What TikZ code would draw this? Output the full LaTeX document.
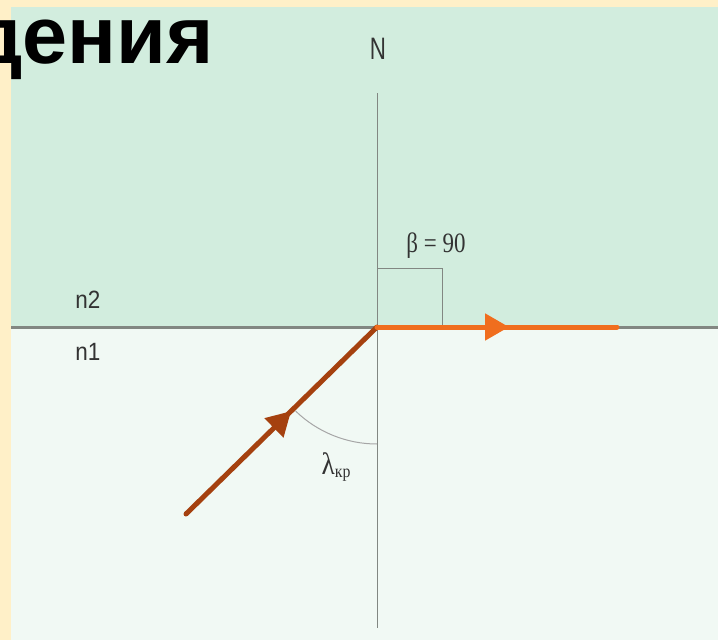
\documentclass[tikz,border=0pt]{standalone}
\usepackage{fontspec}
\setmainfont{Liberation Serif}
\newfontfamily\sansfont{Liberation Sans}
\usetikzlibrary{arrows.meta,decorations.markings}
\definecolor{cream}{RGB}{255,240,200}
\definecolor{upper}{RGB}{210,237,222}
\definecolor{lower}{RGB}{241,249,244}
\definecolor{rayorange}{RGB}{240,110,30}
\definecolor{raybrown}{RGB}{165,65,15}
\definecolor{thin}{RGB}{130,135,130}
\begin{document}
\begin{tikzpicture}
[
    x=1pt, y=-1pt,
    ray/.style={line width=5pt, line cap=round, postaction={decorate},
        decoration={markings, mark=at position 0.55 with {\arrow{Triangle[length=24pt,width=26pt]}}}},
    label/.style={inner sep=0pt, text=black!80}
]
    \useasboundingbox (0,0) rectangle (718,640);
    \fill [cream] (0,0) rectangle (718,640);
    \fill [upper] (11,7) rectangle (718,327);
    \fill [lower] (11,327) rectangle (718,640);
    \node [anchor=base east, inner sep=0pt] (title) at (214,63)
        {\sansfont\bfseries\fontsize{81}{90}\selectfont дения};

    \coordinate (O) at (377,327);
    \coordinate (Ntop) at (377,93);
    \coordinate (Nbot) at (377,628);
    \coordinate (left) at (11,327);
    \coordinate (right) at (718,327);
    \coordinate (src) at (186,514);
    \coordinate (dst) at (617,327);

    \draw [line width=3pt, color=thin] (left) -- (right);
    \draw [line width=1pt, color=thin] (Ntop) -- (Nbot);
    \draw [line width=1pt, color=thin] (O) rectangle ++(65,-59);
    \draw [line width=1pt, color=gray!70] (O) ++(134:117) arc[start angle=134, end angle=90, radius=117];

    \draw [ray, raybrown] (src) -- (O);
    \draw [ray, rayorange] (O) -- (dst);

    \node [label] (N) at (378,49) {\sansfont\fontsize{31}{31}\selectfont\scalebox{0.72}[1]{N}};
    \node [label] (n2) at (88,300) {\sansfont\fontsize{25}{25}\selectfont\scalebox{0.9}[1]{n2}};
    \node [label] (n1) at (88,352) {\sansfont\fontsize{25}{25}\selectfont\scalebox{0.9}[1]{n1}};
    \node [label] (beta) at (436,246) {\fontsize{28}{28}\selectfont\scalebox{0.82}[1]{β = 90}};
    \node [label] (lambda) at (336,467) {\fontsize{31}{31}\selectfont\scalebox{0.88}[1]{λ\raisebox{-3pt}{\fontsize{18}{18}\selectfont кр}}};
\end{tikzpicture}
\end{document}
